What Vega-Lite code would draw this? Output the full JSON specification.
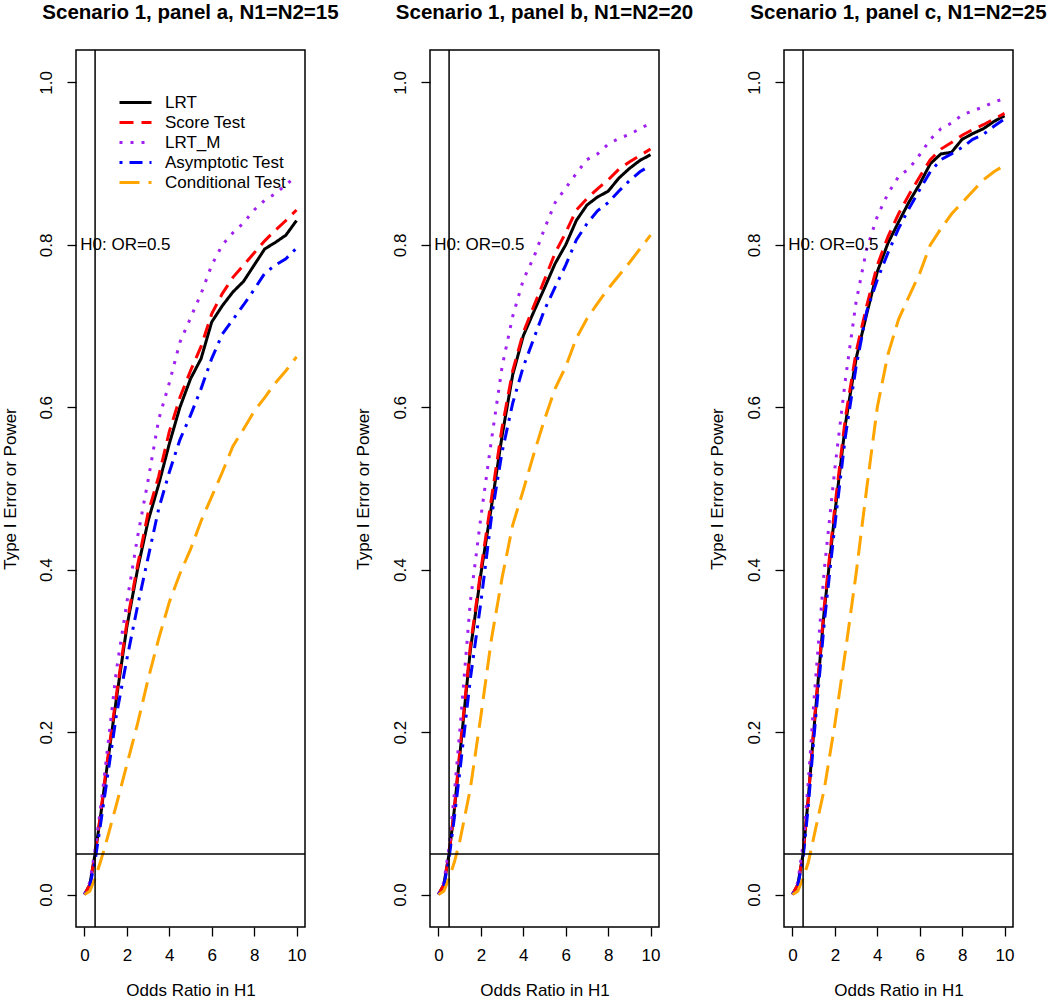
{
 "$schema": "https://vega.github.io/schema/vega-lite/v6.json",
 "background": "white",
 "padding": {"left": 0, "top": 2, "right": 0, "bottom": 0},
 "bounds": "flush",
 "spacing": 125,
 "datasets": {
  "a": [
   {"t":"LRT","x":0,"y":0},{"t":"LRT","x":0.25,"y":0.012},{"t":"LRT","x":0.5,"y":0.05},{"t":"LRT","x":0.75,"y":0.095},{"t":"LRT","x":1,"y":0.145},{"t":"LRT","x":1.5,"y":0.24},{"t":"LRT","x":2,"y":0.33},{"t":"LRT","x":2.5,"y":0.40},{"t":"LRT","x":3,"y":0.46},{"t":"LRT","x":3.5,"y":0.505},{"t":"LRT","x":4,"y":0.555},{"t":"LRT","x":4.5,"y":0.60},{"t":"LRT","x":5,"y":0.635},{"t":"LRT","x":5.5,"y":0.66},{"t":"LRT","x":6,"y":0.705},{"t":"LRT","x":6.5,"y":0.725},{"t":"LRT","x":7,"y":0.742},{"t":"LRT","x":7.5,"y":0.755},{"t":"LRT","x":8,"y":0.775},{"t":"LRT","x":8.5,"y":0.795},{"t":"LRT","x":9,"y":0.803},{"t":"LRT","x":9.5,"y":0.812},{"t":"LRT","x":10,"y":0.83},
   {"t":"Score Test","x":0,"y":0},{"t":"Score Test","x":0.25,"y":0.012},{"t":"Score Test","x":0.5,"y":0.05},{"t":"Score Test","x":0.75,"y":0.098},{"t":"Score Test","x":1,"y":0.15},{"t":"Score Test","x":1.5,"y":0.245},{"t":"Score Test","x":2,"y":0.335},{"t":"Score Test","x":2.5,"y":0.405},{"t":"Score Test","x":3,"y":0.47},{"t":"Score Test","x":3.5,"y":0.515},{"t":"Score Test","x":4,"y":0.57},{"t":"Score Test","x":4.5,"y":0.612},{"t":"Score Test","x":5,"y":0.645},{"t":"Score Test","x":5.5,"y":0.675},{"t":"Score Test","x":6,"y":0.715},{"t":"Score Test","x":6.5,"y":0.74},{"t":"Score Test","x":7,"y":0.76},{"t":"Score Test","x":7.5,"y":0.775},{"t":"Score Test","x":8,"y":0.79},{"t":"Score Test","x":8.5,"y":0.805},{"t":"Score Test","x":9,"y":0.818},{"t":"Score Test","x":9.5,"y":0.83},{"t":"Score Test","x":10,"y":0.843},
   {"t":"LRT_M","x":0,"y":0},{"t":"LRT_M","x":0.25,"y":0.015},{"t":"LRT_M","x":0.5,"y":0.055},{"t":"LRT_M","x":0.75,"y":0.105},{"t":"LRT_M","x":1,"y":0.16},{"t":"LRT_M","x":1.5,"y":0.275},{"t":"LRT_M","x":2,"y":0.36},{"t":"LRT_M","x":2.5,"y":0.44},{"t":"LRT_M","x":3,"y":0.51},{"t":"LRT_M","x":3.5,"y":0.585},{"t":"LRT_M","x":4,"y":0.63},{"t":"LRT_M","x":4.5,"y":0.68},{"t":"LRT_M","x":5,"y":0.71},{"t":"LRT_M","x":5.5,"y":0.74},{"t":"LRT_M","x":6,"y":0.775},{"t":"LRT_M","x":6.5,"y":0.80},{"t":"LRT_M","x":7,"y":0.815},{"t":"LRT_M","x":7.5,"y":0.827},{"t":"LRT_M","x":8,"y":0.843},{"t":"LRT_M","x":8.5,"y":0.855},{"t":"LRT_M","x":9,"y":0.863},{"t":"LRT_M","x":9.5,"y":0.874},{"t":"LRT_M","x":10,"y":0.885},
   {"t":"Asymptotic Test","x":0,"y":0},{"t":"Asymptotic Test","x":0.25,"y":0.01},{"t":"Asymptotic Test","x":0.5,"y":0.042},{"t":"Asymptotic Test","x":0.75,"y":0.085},{"t":"Asymptotic Test","x":1,"y":0.13},{"t":"Asymptotic Test","x":1.5,"y":0.22},{"t":"Asymptotic Test","x":2,"y":0.29},{"t":"Asymptotic Test","x":2.5,"y":0.355},{"t":"Asymptotic Test","x":3,"y":0.415},{"t":"Asymptotic Test","x":3.5,"y":0.475},{"t":"Asymptotic Test","x":4,"y":0.52},{"t":"Asymptotic Test","x":4.5,"y":0.56},{"t":"Asymptotic Test","x":5,"y":0.59},{"t":"Asymptotic Test","x":5.5,"y":0.623},{"t":"Asymptotic Test","x":6,"y":0.66},{"t":"Asymptotic Test","x":6.5,"y":0.69},{"t":"Asymptotic Test","x":7,"y":0.708},{"t":"Asymptotic Test","x":7.5,"y":0.726},{"t":"Asymptotic Test","x":8,"y":0.745},{"t":"Asymptotic Test","x":8.5,"y":0.765},{"t":"Asymptotic Test","x":9,"y":0.775},{"t":"Asymptotic Test","x":9.5,"y":0.783},{"t":"Asymptotic Test","x":10,"y":0.796},
   {"t":"Conditional Test","x":0,"y":0},{"t":"Conditional Test","x":0.25,"y":0.004},{"t":"Conditional Test","x":0.5,"y":0.02},{"t":"Conditional Test","x":0.75,"y":0.04},{"t":"Conditional Test","x":1,"y":0.062},{"t":"Conditional Test","x":1.5,"y":0.11},{"t":"Conditional Test","x":2,"y":0.16},{"t":"Conditional Test","x":2.5,"y":0.21},{"t":"Conditional Test","x":3,"y":0.265},{"t":"Conditional Test","x":3.5,"y":0.315},{"t":"Conditional Test","x":4,"y":0.36},{"t":"Conditional Test","x":4.5,"y":0.395},{"t":"Conditional Test","x":5,"y":0.425},{"t":"Conditional Test","x":5.5,"y":0.46},{"t":"Conditional Test","x":6,"y":0.49},{"t":"Conditional Test","x":6.5,"y":0.52},{"t":"Conditional Test","x":7,"y":0.552},{"t":"Conditional Test","x":7.5,"y":0.573},{"t":"Conditional Test","x":8,"y":0.595},{"t":"Conditional Test","x":8.5,"y":0.612},{"t":"Conditional Test","x":9,"y":0.63},{"t":"Conditional Test","x":9.5,"y":0.645},{"t":"Conditional Test","x":10,"y":0.662}
  ],
  "b": [
   {"t":"LRT","x":0,"y":0},{"t":"LRT","x":0.25,"y":0.012},{"t":"LRT","x":0.5,"y":0.05},{"t":"LRT","x":0.75,"y":0.105},{"t":"LRT","x":1,"y":0.17},{"t":"LRT","x":1.5,"y":0.30},{"t":"LRT","x":2,"y":0.395},{"t":"LRT","x":2.5,"y":0.478},{"t":"LRT","x":3,"y":0.565},{"t":"LRT","x":3.5,"y":0.64},{"t":"LRT","x":4,"y":0.688},{"t":"LRT","x":4.5,"y":0.718},{"t":"LRT","x":5,"y":0.747},{"t":"LRT","x":5.5,"y":0.777},{"t":"LRT","x":6,"y":0.80},{"t":"LRT","x":6.5,"y":0.83},{"t":"LRT","x":7,"y":0.849},{"t":"LRT","x":7.5,"y":0.859},{"t":"LRT","x":8,"y":0.866},{"t":"LRT","x":8.5,"y":0.882},{"t":"LRT","x":9,"y":0.894},{"t":"LRT","x":9.5,"y":0.904},{"t":"LRT","x":10,"y":0.911},
   {"t":"Score Test","x":0,"y":0},{"t":"Score Test","x":0.25,"y":0.012},{"t":"Score Test","x":0.5,"y":0.05},{"t":"Score Test","x":0.75,"y":0.107},{"t":"Score Test","x":1,"y":0.175},{"t":"Score Test","x":1.5,"y":0.305},{"t":"Score Test","x":2,"y":0.40},{"t":"Score Test","x":2.5,"y":0.488},{"t":"Score Test","x":3,"y":0.575},{"t":"Score Test","x":3.5,"y":0.645},{"t":"Score Test","x":4,"y":0.692},{"t":"Score Test","x":4.5,"y":0.725},{"t":"Score Test","x":5,"y":0.757},{"t":"Score Test","x":5.5,"y":0.79},{"t":"Score Test","x":6,"y":0.815},{"t":"Score Test","x":6.5,"y":0.843},{"t":"Score Test","x":7,"y":0.857},{"t":"Score Test","x":7.5,"y":0.869},{"t":"Score Test","x":8,"y":0.88},{"t":"Score Test","x":8.5,"y":0.893},{"t":"Score Test","x":9,"y":0.902},{"t":"Score Test","x":9.5,"y":0.91},{"t":"Score Test","x":10,"y":0.918},
   {"t":"LRT_M","x":0,"y":0},{"t":"LRT_M","x":0.25,"y":0.015},{"t":"LRT_M","x":0.5,"y":0.058},{"t":"LRT_M","x":0.75,"y":0.125},{"t":"LRT_M","x":1,"y":0.20},{"t":"LRT_M","x":1.5,"y":0.36},{"t":"LRT_M","x":2,"y":0.465},{"t":"LRT_M","x":2.5,"y":0.56},{"t":"LRT_M","x":3,"y":0.65},{"t":"LRT_M","x":3.5,"y":0.712},{"t":"LRT_M","x":4,"y":0.757},{"t":"LRT_M","x":4.5,"y":0.785},{"t":"LRT_M","x":5,"y":0.82},{"t":"LRT_M","x":5.5,"y":0.852},{"t":"LRT_M","x":6,"y":0.87},{"t":"LRT_M","x":6.5,"y":0.888},{"t":"LRT_M","x":7,"y":0.905},{"t":"LRT_M","x":7.5,"y":0.912},{"t":"LRT_M","x":8,"y":0.924},{"t":"LRT_M","x":8.5,"y":0.931},{"t":"LRT_M","x":9,"y":0.936},{"t":"LRT_M","x":9.5,"y":0.943},{"t":"LRT_M","x":10,"y":0.95},
   {"t":"Asymptotic Test","x":0,"y":0},{"t":"Asymptotic Test","x":0.25,"y":0.01},{"t":"Asymptotic Test","x":0.5,"y":0.045},{"t":"Asymptotic Test","x":0.75,"y":0.095},{"t":"Asymptotic Test","x":1,"y":0.15},{"t":"Asymptotic Test","x":1.5,"y":0.265},{"t":"Asymptotic Test","x":2,"y":0.36},{"t":"Asymptotic Test","x":2.5,"y":0.465},{"t":"Asymptotic Test","x":3,"y":0.545},{"t":"Asymptotic Test","x":3.5,"y":0.605},{"t":"Asymptotic Test","x":4,"y":0.65},{"t":"Asymptotic Test","x":4.5,"y":0.685},{"t":"Asymptotic Test","x":5,"y":0.72},{"t":"Asymptotic Test","x":5.5,"y":0.748},{"t":"Asymptotic Test","x":6,"y":0.775},{"t":"Asymptotic Test","x":6.5,"y":0.806},{"t":"Asymptotic Test","x":7,"y":0.826},{"t":"Asymptotic Test","x":7.5,"y":0.842},{"t":"Asymptotic Test","x":8,"y":0.852},{"t":"Asymptotic Test","x":8.5,"y":0.866},{"t":"Asymptotic Test","x":9,"y":0.879},{"t":"Asymptotic Test","x":9.5,"y":0.89},{"t":"Asymptotic Test","x":10,"y":0.898},
   {"t":"Conditional Test","x":0,"y":0},{"t":"Conditional Test","x":0.25,"y":0.004},{"t":"Conditional Test","x":0.5,"y":0.02},{"t":"Conditional Test","x":0.75,"y":0.04},{"t":"Conditional Test","x":1,"y":0.065},{"t":"Conditional Test","x":1.5,"y":0.13},{"t":"Conditional Test","x":2,"y":0.22},{"t":"Conditional Test","x":2.5,"y":0.315},{"t":"Conditional Test","x":3,"y":0.39},{"t":"Conditional Test","x":3.5,"y":0.455},{"t":"Conditional Test","x":4,"y":0.498},{"t":"Conditional Test","x":4.5,"y":0.543},{"t":"Conditional Test","x":5,"y":0.585},{"t":"Conditional Test","x":5.5,"y":0.623},{"t":"Conditional Test","x":6,"y":0.65},{"t":"Conditional Test","x":6.5,"y":0.685},{"t":"Conditional Test","x":7,"y":0.709},{"t":"Conditional Test","x":7.5,"y":0.728},{"t":"Conditional Test","x":8,"y":0.746},{"t":"Conditional Test","x":8.5,"y":0.762},{"t":"Conditional Test","x":9,"y":0.778},{"t":"Conditional Test","x":9.5,"y":0.795},{"t":"Conditional Test","x":10,"y":0.812}
  ],
  "c": [
   {"t":"LRT","x":0,"y":0},{"t":"LRT","x":0.25,"y":0.012},{"t":"LRT","x":0.5,"y":0.05},{"t":"LRT","x":0.75,"y":0.12},{"t":"LRT","x":1,"y":0.20},{"t":"LRT","x":1.5,"y":0.35},{"t":"LRT","x":2,"y":0.47},{"t":"LRT","x":2.5,"y":0.58},{"t":"LRT","x":3,"y":0.66},{"t":"LRT","x":3.5,"y":0.715},{"t":"LRT","x":4,"y":0.767},{"t":"LRT","x":4.5,"y":0.802},{"t":"LRT","x":5,"y":0.828},{"t":"LRT","x":5.5,"y":0.853},{"t":"LRT","x":6,"y":0.875},{"t":"LRT","x":6.5,"y":0.90},{"t":"LRT","x":7,"y":0.912},{"t":"LRT","x":7.5,"y":0.914},{"t":"LRT","x":8,"y":0.93},{"t":"LRT","x":8.5,"y":0.937},{"t":"LRT","x":9,"y":0.943},{"t":"LRT","x":9.5,"y":0.952},{"t":"LRT","x":10,"y":0.959},
   {"t":"Score Test","x":0,"y":0},{"t":"Score Test","x":0.25,"y":0.012},{"t":"Score Test","x":0.5,"y":0.05},{"t":"Score Test","x":0.75,"y":0.12},{"t":"Score Test","x":1,"y":0.205},{"t":"Score Test","x":1.5,"y":0.355},{"t":"Score Test","x":2,"y":0.478},{"t":"Score Test","x":2.5,"y":0.588},{"t":"Score Test","x":3,"y":0.668},{"t":"Score Test","x":3.5,"y":0.725},{"t":"Score Test","x":4,"y":0.775},{"t":"Score Test","x":4.5,"y":0.81},{"t":"Score Test","x":5,"y":0.838},{"t":"Score Test","x":5.5,"y":0.862},{"t":"Score Test","x":6,"y":0.884},{"t":"Score Test","x":6.5,"y":0.905},{"t":"Score Test","x":7,"y":0.918},{"t":"Score Test","x":7.5,"y":0.926},{"t":"Score Test","x":8,"y":0.935},{"t":"Score Test","x":8.5,"y":0.942},{"t":"Score Test","x":9,"y":0.948},{"t":"Score Test","x":9.5,"y":0.955},{"t":"Score Test","x":10,"y":0.962},
   {"t":"LRT_M","x":0,"y":0},{"t":"LRT_M","x":0.25,"y":0.015},{"t":"LRT_M","x":0.5,"y":0.062},{"t":"LRT_M","x":0.75,"y":0.14},{"t":"LRT_M","x":1,"y":0.235},{"t":"LRT_M","x":1.5,"y":0.40},{"t":"LRT_M","x":2,"y":0.525},{"t":"LRT_M","x":2.5,"y":0.635},{"t":"LRT_M","x":3,"y":0.73},{"t":"LRT_M","x":3.5,"y":0.795},{"t":"LRT_M","x":4,"y":0.835},{"t":"LRT_M","x":4.5,"y":0.863},{"t":"LRT_M","x":5,"y":0.884},{"t":"LRT_M","x":5.5,"y":0.894},{"t":"LRT_M","x":6,"y":0.911},{"t":"LRT_M","x":6.5,"y":0.93},{"t":"LRT_M","x":7,"y":0.943},{"t":"LRT_M","x":7.5,"y":0.95},{"t":"LRT_M","x":8,"y":0.96},{"t":"LRT_M","x":8.5,"y":0.965},{"t":"LRT_M","x":9,"y":0.97},{"t":"LRT_M","x":9.5,"y":0.976},{"t":"LRT_M","x":10,"y":0.98},
   {"t":"Asymptotic Test","x":0,"y":0},{"t":"Asymptotic Test","x":0.25,"y":0.01},{"t":"Asymptotic Test","x":0.5,"y":0.045},{"t":"Asymptotic Test","x":0.75,"y":0.11},{"t":"Asymptotic Test","x":1,"y":0.19},{"t":"Asymptotic Test","x":1.5,"y":0.335},{"t":"Asymptotic Test","x":2,"y":0.455},{"t":"Asymptotic Test","x":2.5,"y":0.565},{"t":"Asymptotic Test","x":3,"y":0.65},{"t":"Asymptotic Test","x":3.5,"y":0.718},{"t":"Asymptotic Test","x":4,"y":0.757},{"t":"Asymptotic Test","x":4.5,"y":0.79},{"t":"Asymptotic Test","x":5,"y":0.82},{"t":"Asymptotic Test","x":5.5,"y":0.845},{"t":"Asymptotic Test","x":6,"y":0.868},{"t":"Asymptotic Test","x":6.5,"y":0.89},{"t":"Asymptotic Test","x":7,"y":0.905},{"t":"Asymptotic Test","x":7.5,"y":0.912},{"t":"Asymptotic Test","x":8,"y":0.92},{"t":"Asymptotic Test","x":8.5,"y":0.93},{"t":"Asymptotic Test","x":9,"y":0.936},{"t":"Asymptotic Test","x":9.5,"y":0.946},{"t":"Asymptotic Test","x":10,"y":0.955},
   {"t":"Conditional Test","x":0,"y":0},{"t":"Conditional Test","x":0.25,"y":0.004},{"t":"Conditional Test","x":0.5,"y":0.02},{"t":"Conditional Test","x":0.75,"y":0.04},{"t":"Conditional Test","x":1,"y":0.07},{"t":"Conditional Test","x":1.5,"y":0.13},{"t":"Conditional Test","x":2,"y":0.21},{"t":"Conditional Test","x":2.5,"y":0.30},{"t":"Conditional Test","x":3,"y":0.395},{"t":"Conditional Test","x":3.5,"y":0.50},{"t":"Conditional Test","x":4,"y":0.60},{"t":"Conditional Test","x":4.5,"y":0.665},{"t":"Conditional Test","x":5,"y":0.708},{"t":"Conditional Test","x":5.5,"y":0.737},{"t":"Conditional Test","x":6,"y":0.765},{"t":"Conditional Test","x":6.5,"y":0.80},{"t":"Conditional Test","x":7,"y":0.82},{"t":"Conditional Test","x":7.5,"y":0.838},{"t":"Conditional Test","x":8,"y":0.852},{"t":"Conditional Test","x":8.5,"y":0.866},{"t":"Conditional Test","x":9,"y":0.88},{"t":"Conditional Test","x":9.5,"y":0.89},{"t":"Conditional Test","x":10,"y":0.898}
  ]
 },
 "config": {
  "font": "Liberation Sans",
  "view": {"stroke": "black", "strokeWidth": 1.5},
  "axis": {"domain": false, "grid": false, "tickColor": "black", "tickSize": 9, "tickWidth": 1.3, "labelFont": "Liberation Sans", "labelFontSize": 17, "labelColor": "black", "titleFont": "Liberation Sans", "titleFontSize": 17, "titleFontWeight": "normal", "titleColor": "black"},
  "title": {"font": "Liberation Sans", "fontSize": 20.5, "fontWeight": "bold", "color": "black", "anchor": "middle", "frame": "group", "offset": 26, "baseline": "bottom"}
 },
 "resolve": {"scale": {"x": "independent", "y": "independent", "color": "independent", "strokeDash": "independent"}, "legend": {"color": "independent", "strokeDash": "independent"}},
 "hconcat": [
  {
   "width": 229, "height": 877,
   "title": "Scenario 1, panel a, N1=N2=15",
   "layer": [
    {"data": {"name": "a"}, "mark": {"type": "line", "strokeWidth": 3, "clip": true},
     "encoding": {
      "x": {"field": "x", "type": "quantitative", "scale": {"domain": [-0.4, 10.4], "nice": false, "zero": false}, "axis": {"values": [0,2,4,6,8,10], "title": "Odds Ratio in H1", "labelPadding": 11, "titlePadding": 19}},
      "y": {"field": "y", "type": "quantitative", "scale": {"domain": [-0.04, 1.04], "nice": false, "zero": false}, "axis": {"values": [0,0.2,0.4,0.6,0.8,1], "format": ".1f", "title": "Type I Error or Power", "labelAngle": -90, "labelAlign": "center", "labelBaseline": "bottom", "labelPadding": 12, "titleX": -66, "titleY": 438.5, "titleAngle": -90, "titleBaseline": "middle", "titleAlign": "center"}},
      "color": {"field": "t", "type": "nominal", "scale": {"domain": ["LRT","Score Test","LRT_M","Asymptotic Test","Conditional Test"], "range": ["#000000","#ff0000","#a020f0","#0000ff","#ffa500"]},
       "legend": {"orient": "none", "legendX": 48, "legendY": 41, "title": null, "symbolType": "M-1.6,0L1.6,0", "symbolSize": 400, "symbolStrokeWidth": 3, "labelFontSize": 17, "labelFont": "Liberation Sans", "labelColor": "black", "labelOffset": 18, "rowPadding": 0, "padding": 0}},
      "strokeDash": {"field": "t", "type": "nominal", "scale": {"domain": ["LRT","Score Test","LRT_M","Asymptotic Test","Conditional Test"], "range": [[1,0],[14,8],[3,8],[3,7,13,7],[20,9]]},
       "legend": {"orient": "none", "legendX": 48, "legendY": 41, "title": null, "symbolType": "M-1.6,0L1.6,0", "symbolSize": 400, "symbolStrokeWidth": 3, "labelFontSize": 17, "labelFont": "Liberation Sans", "labelColor": "black", "labelOffset": 18, "rowPadding": 0, "padding": 0}}
     }},
    {"data": {"values": [{"x": 0.5}]}, "mark": {"type": "rule", "color": "black", "strokeWidth": 1.5}, "encoding": {"x": {"field": "x", "type": "quantitative"}}},
    {"data": {"values": [{"y": 0.05}]}, "mark": {"type": "rule", "color": "black", "strokeWidth": 1.5}, "encoding": {"y": {"field": "y", "type": "quantitative"}}},
    {"data": {"values": [{"x": 1.93, "y": 0.8, "label": "H0: OR=0.5"}]}, "mark": {"type": "text", "fontSize": 17, "font": "Liberation Sans", "color": "black", "align": "center", "baseline": "middle"}, "encoding": {"x": {"field": "x", "type": "quantitative"}, "y": {"field": "y", "type": "quantitative"}, "text": {"field": "label"}}}
   ]
  },
  {
   "width": 229, "height": 877,
   "title": "Scenario 1, panel b, N1=N2=20",
   "layer": [
    {"data": {"name": "b"}, "mark": {"type": "line", "strokeWidth": 3, "clip": true},
     "encoding": {
      "x": {"field": "x", "type": "quantitative", "scale": {"domain": [-0.4, 10.4], "nice": false, "zero": false}, "axis": {"values": [0,2,4,6,8,10], "title": "Odds Ratio in H1", "labelPadding": 11, "titlePadding": 19}},
      "y": {"field": "y", "type": "quantitative", "scale": {"domain": [-0.04, 1.04], "nice": false, "zero": false}, "axis": {"values": [0,0.2,0.4,0.6,0.8,1], "format": ".1f", "title": "Type I Error or Power", "labelAngle": -90, "labelAlign": "center", "labelBaseline": "bottom", "labelPadding": 12, "titleX": -67, "titleY": 438.5, "titleAngle": -90, "titleBaseline": "middle", "titleAlign": "center"}},
      "color": {"field": "t", "type": "nominal", "scale": {"domain": ["LRT","Score Test","LRT_M","Asymptotic Test","Conditional Test"], "range": ["#000000","#ff0000","#a020f0","#0000ff","#ffa500"]}, "legend": null},
      "strokeDash": {"field": "t", "type": "nominal", "scale": {"domain": ["LRT","Score Test","LRT_M","Asymptotic Test","Conditional Test"], "range": [[1,0],[14,8],[3,8],[3,7,13,7],[20,9]]}, "legend": null}
     }},
    {"data": {"values": [{"x": 0.5}]}, "mark": {"type": "rule", "color": "black", "strokeWidth": 1.5}, "encoding": {"x": {"field": "x", "type": "quantitative"}}},
    {"data": {"values": [{"y": 0.05}]}, "mark": {"type": "rule", "color": "black", "strokeWidth": 1.5}, "encoding": {"y": {"field": "y", "type": "quantitative"}}},
    {"data": {"values": [{"x": 1.93, "y": 0.8, "label": "H0: OR=0.5"}]}, "mark": {"type": "text", "fontSize": 17, "font": "Liberation Sans", "color": "black", "align": "center", "baseline": "middle"}, "encoding": {"x": {"field": "x", "type": "quantitative"}, "y": {"field": "y", "type": "quantitative"}, "text": {"field": "label"}}}
   ]
  },
  {
   "width": 229, "height": 877,
   "title": "Scenario 1, panel c, N1=N2=25",
   "layer": [
    {"data": {"name": "c"}, "mark": {"type": "line", "strokeWidth": 3, "clip": true},
     "encoding": {
      "x": {"field": "x", "type": "quantitative", "scale": {"domain": [-0.4, 10.4], "nice": false, "zero": false}, "axis": {"values": [0,2,4,6,8,10], "title": "Odds Ratio in H1", "labelPadding": 11, "titlePadding": 19}},
      "y": {"field": "y", "type": "quantitative", "scale": {"domain": [-0.04, 1.04], "nice": false, "zero": false}, "axis": {"values": [0,0.2,0.4,0.6,0.8,1], "format": ".1f", "title": "Type I Error or Power", "labelAngle": -90, "labelAlign": "center", "labelBaseline": "bottom", "labelPadding": 12, "titleX": -67, "titleY": 438.5, "titleAngle": -90, "titleBaseline": "middle", "titleAlign": "center"}},
      "color": {"field": "t", "type": "nominal", "scale": {"domain": ["LRT","Score Test","LRT_M","Asymptotic Test","Conditional Test"], "range": ["#000000","#ff0000","#a020f0","#0000ff","#ffa500"]}, "legend": null},
      "strokeDash": {"field": "t", "type": "nominal", "scale": {"domain": ["LRT","Score Test","LRT_M","Asymptotic Test","Conditional Test"], "range": [[1,0],[14,8],[3,8],[3,7,13,7],[20,9]]}, "legend": null}
     }},
    {"data": {"values": [{"x": 0.5}]}, "mark": {"type": "rule", "color": "black", "strokeWidth": 1.5}, "encoding": {"x": {"field": "x", "type": "quantitative"}}},
    {"data": {"values": [{"y": 0.05}]}, "mark": {"type": "rule", "color": "black", "strokeWidth": 1.5}, "encoding": {"y": {"field": "y", "type": "quantitative"}}},
    {"data": {"values": [{"x": 1.93, "y": 0.8, "label": "H0: OR=0.5"}]}, "mark": {"type": "text", "fontSize": 17, "font": "Liberation Sans", "color": "black", "align": "center", "baseline": "middle"}, "encoding": {"x": {"field": "x", "type": "quantitative"}, "y": {"field": "y", "type": "quantitative"}, "text": {"field": "label"}}}
   ]
  }
 ]
}
